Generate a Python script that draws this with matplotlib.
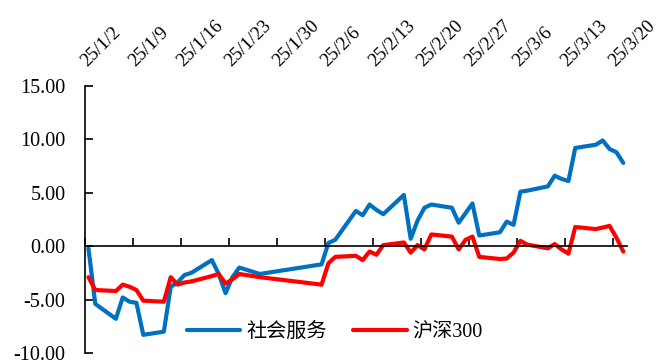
import matplotlib
matplotlib.use("Agg")
import matplotlib.pyplot as plt
import matplotlib.transforms as mtransforms
import numpy as np
import pandas as pd

# trading days, 2025-01-02 .. 2025-03-21
dates = [
    "2025-01-02", "2025-01-03", "2025-01-06", "2025-01-07", "2025-01-08",
    "2025-01-09", "2025-01-10", "2025-01-13", "2025-01-14", "2025-01-15",
    "2025-01-16", "2025-01-17", "2025-01-20", "2025-01-21", "2025-01-22",
    "2025-01-23", "2025-01-24", "2025-01-27", "2025-02-05", "2025-02-06",
    "2025-02-07", "2025-02-10", "2025-02-11", "2025-02-12", "2025-02-13",
    "2025-02-14", "2025-02-17", "2025-02-18", "2025-02-19", "2025-02-20",
    "2025-02-21", "2025-02-24", "2025-02-25", "2025-02-26", "2025-02-27",
    "2025-02-28", "2025-03-03", "2025-03-04", "2025-03-05", "2025-03-06",
    "2025-03-07", "2025-03-10", "2025-03-11", "2025-03-12", "2025-03-13",
    "2025-03-14", "2025-03-17", "2025-03-18", "2025-03-19", "2025-03-20",
    "2025-03-21",
]

# cumulative change (%)
social_service = [
    -0.2, -5.4, -6.8, -4.8, -5.2, -5.3, -8.3, -8.0, -3.8, -3.4,
    -2.7, -2.5, -1.3, -2.6, -4.4, -2.9, -2.0, -2.6, -1.7, 0.3,
    0.6, 3.3, 2.9, 3.9, 3.4, 3.0, 4.8, 0.7, 2.4, 3.6,
    3.9, 3.6, 2.2, 3.1, 4.0, 1.0, 1.3, 2.3, 2.0, 5.1,
    5.2, 5.6, 6.6, 6.3, 6.1, 9.2, 9.5, 9.9, 9.1, 8.8,
    7.8,
]
csi300 = [
    -2.9, -4.1, -4.2, -3.6, -3.8, -4.1, -5.1, -5.2, -2.9, -3.6,
    -3.4, -3.3, -2.8, -2.6, -3.5, -3.1, -2.6, -2.9, -3.6, -1.6,
    -1.0, -0.9, -1.3, -0.5, -0.8, 0.1, 0.35, -0.6, 0.1, -0.3,
    1.1, 0.9, -0.3, 0.6, 0.9, -1.0, -1.2, -1.15, -0.6, 0.5,
    0.15, -0.2, 0.2, -0.3, -0.7, 1.8, 1.6, 1.75, 1.9, 0.8,
    -0.5,
]

tick_labels = ["25/1/2", "25/1/9", "25/1/16", "25/1/23", "25/1/30", "25/2/6",
               "25/2/13", "25/2/20", "25/2/27", "25/3/6", "25/3/13", "25/3/20"]
yticks = [-10, -5, 0, 5, 10, 15]

serif = ["Liberation Serif", "Noto Sans CJK SC"]
plt.rcParams["font.family"] = serif

t = pd.to_datetime(dates)
days = np.asarray((t - t[0]).days, dtype=float)
xticks = [-0.5 + 7 * k for k in range(len(tick_labels))]  # weekly, at slot edges

fig = plt.figure(figsize=(6.57, 3.62), dpi=100)
ax = fig.add_axes([85 / 657, 1 - 353 / 362, (626.7 - 85) / 657, (353 - 86) / 362])

ax.plot(days, social_service, color="#0070C0", lw=3.0, label="社会服务",
        solid_joinstyle="round", solid_capstyle="round")
ax.plot(days, csi300, color="#FF0000", lw=3.0, label="沪深300",
        solid_joinstyle="round", solid_capstyle="round")

ax.set_xlim(-0.5, days[-1] + 0.5)
ax.set_ylim(-10, 15)
ax.set_yticks(yticks)
ax.set_yticklabels([f"{v:.2f}" for v in yticks], fontsize=14.5)
ax.set_xticks(xticks)
ax.set_xticklabels([])

for s in ["top", "right"]:
    ax.spines[s].set_visible(False)
ax.spines["bottom"].set_position(("data", 0))
for s in ["left", "bottom"]:
    ax.spines[s].set_linewidth(1.2)
    ax.spines[s].set_color("black")

ax.tick_params(axis="y", direction="in", length=6, width=1.2, pad=14)
ax.tick_params(axis="x", direction="in", length=6, width=1.2,
               labelbottom=False)

# date labels above the plot, rotated like the original
trans = mtransforms.offset_copy(ax.get_xaxis_transform(), fig=fig,
                                x=2, y=19, units="dots")
for xt, lab in zip(xticks, tick_labels):
    ax.text(xt, 1.0, lab, transform=trans, rotation=45, rotation_mode="anchor",
            ha="left", va="baseline", fontsize=13.5, clip_on=False)

ax.legend(loc="center", bbox_to_anchor=(0.4615, 0.076), ncol=2, frameon=False,
          prop={"family": serif, "size": 14.5}, handlelength=2.65,
          handletextpad=0.3, columnspacing=1.3)

fig.savefig("out.png", dpi=100)
